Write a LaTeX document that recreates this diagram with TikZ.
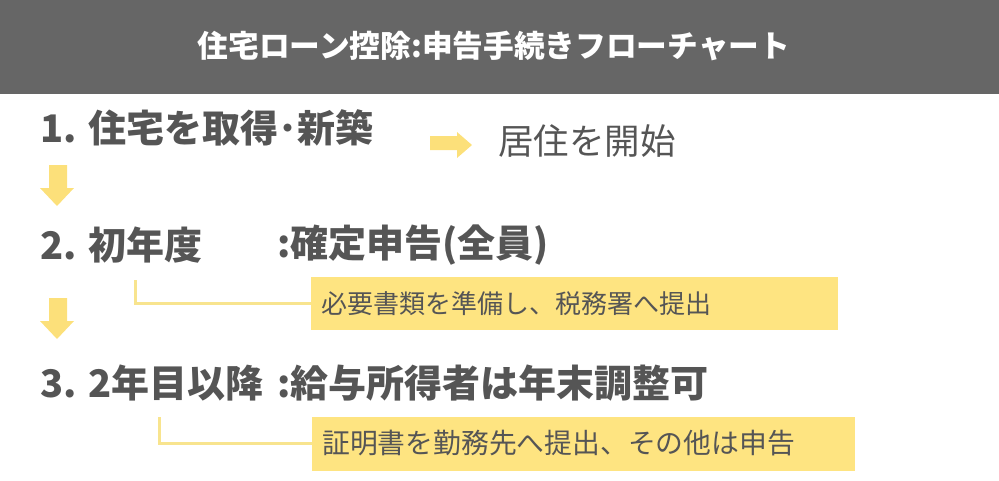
\documentclass[tikz,border=0pt]{standalone}
\usepackage{fontspec}
\setmainfont{Noto Sans CJK JP}
\usepackage{xcolor}
\usetikzlibrary{positioning}
\definecolor{headgray}{HTML}{666666}
\definecolor{textgray}{HTML}{555555}
\definecolor{notefill}{HTML}{FEE481}
\definecolor{arrowfill}{HTML}{FCE07A}
\definecolor{linkline}{HTML}{F8E48E}
\tikzset{
        steptext/.style={anchor=west, inner sep=0pt, text=textgray, font=\fontsize{38}{42}\selectfont\bfseries},
        notebox/.style={anchor=west, fill=notefill, inner xsep=10pt, inner ysep=0pt, text=textgray, align=left, font=\fontsize{26}{30}\selectfont},
        link/.style={draw=linkline, line width=3pt},
}

\begin{document}
\begin{tikzpicture}[x=1pt, y=-1pt]
        \useasboundingbox (0,0) rectangle (999,480);
        \fill [headgray] (0,0) rectangle (999,94);
        \node [text=white, font=\fontsize{30.7}{35}\selectfont\bfseries] (title) at (494,46) {住宅ローン控除:申告手続きフローチャート};
        \node [steptext] (step1) at (40,128) {1. 住宅を取得･新築};
        \fill [arrowfill] (430,136) -- (457,136) -- (457,132) -- (472,145) -- (457,158) -- (457,150) -- (430,150) -- cycle;
        \node [steptext, font=\fontsize{35.5}{40}\selectfont] (move) at (498,141) {居住を開始};
        \foreach \y in {165, 298}{
                \fill [arrowfill] (49,\y) -- (67,\y) -- (67,\y+23) -- (74,\y+23) -- (57,\y+41) -- (40,\y+23) -- (49,\y+23) -- cycle;
            }
        \node [steptext] (step2) at (40,245) {2. 初年度};
        \node [steptext] (rule2) at (277,245) {:確定申告(全員)};
        \node [notebox, text width=507pt, minimum height=53pt] (note2) at (311,303.5) {必要書類を準備し、税務署へ提出};
        \coordinate (link2) at (135,280);
        \draw [link] (link2) |- (note2.west);
        \node [steptext] (step3) at (40,383) {3. 2年目以降};
        \node [steptext] (rule3) at (277,383) {:給与所得者は年末調整可};
        \node [notebox, text width=523pt, minimum height=54pt, font=\fontsize{27.8}{32}\selectfont] (note3) at (312,443.5) {証明書を勤務先へ提出、その他は申告};
        \coordinate (link3) at (159,417);
        \draw [link] (link3) |- (note3.west);
    \end{tikzpicture}
\end{document}
